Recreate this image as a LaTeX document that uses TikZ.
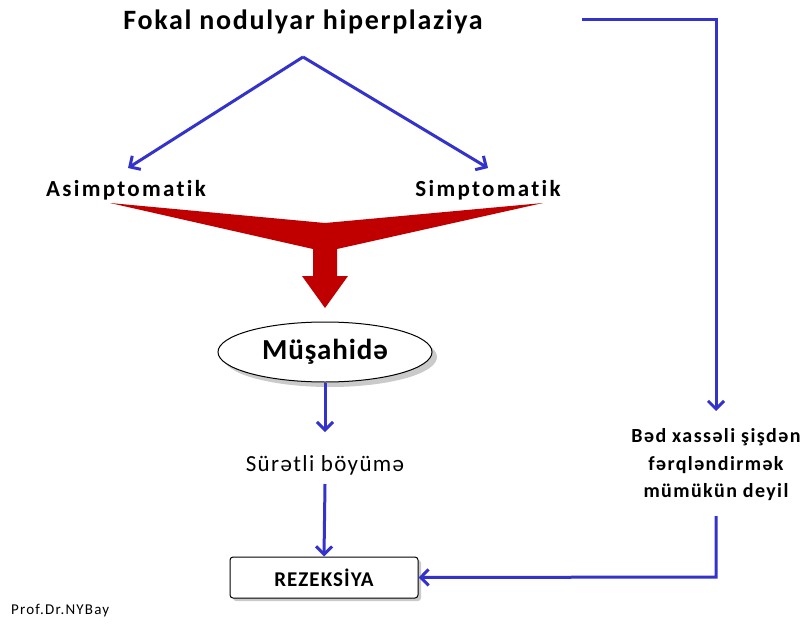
\documentclass[tikz,border=0pt]{standalone}
\usepackage{fontspec}
\setmainfont{Carlito}[Ligatures=NoCommon]
\usetikzlibrary{arrows.meta,shapes.geometric,shadows}
\definecolor{arrowblue}{RGB}{51,51,204}
\definecolor{darkred}{RGB}{192,0,0}
\newcommand{\fsz}[3]{\fontsize{#1}{#2}\selectfont\addfontfeatures{LetterSpace=#3}}
\tikzset{
  flow/.style={draw=arrowblue,line width=3pt,-{Straight Barb[length=8pt,width=16pt,line width=3pt]}},
  label/.style={font=\bfseries\fsz{23}{27}{10},inner sep=0pt},
}
\begin{document}
\begin{tikzpicture}[x=1pt,y=-1pt]
\useasboundingbox (0,0) rectangle (811,626);
% texts
\node[font=\bfseries\fsz{28}{32}{6},inner sep=0pt] (title) at (303,22) {Fokal nodulyar hiperplaziya};
\coordinate (apex) at (303,57);
\node[label] (asim) at (126,190) {Asimptomatik};
\node[label] (sim) at (488,190) {Simptomatik};
\coordinate (asimtop) at (128,168);
\coordinate (simtop) at (488,168);
\draw[flow] (apex) -- (asimtop);
\draw[flow] (apex) -- (simtop);
% red merging arrow
\fill[darkred] (110,203) -- (325,223) -- (543,203) -- (337,249) -- (337,276) -- (348,276)
  -- (325,308) -- (302,276) -- (313,276) -- (313,249) -- cycle;
% ellipse
\node[draw=black,line width=1pt,fill=white,ellipse,minimum width=214pt,minimum height=60pt,
  drop shadow={shadow xshift=5pt,shadow yshift=-5pt,fill=black!35,opacity=0.6},
  font=\bfseries\fsz{29}{33}{3}] (mus) at (325,352) {Müşahidə};
\node[font=\fsz{23}{27}{6},inner sep=0pt] (sur) at (325,465) {Sürətli böyümə};
\node[draw=black,line width=1pt,fill=white,rounded corners=3pt,minimum width=188pt,minimum height=41pt,
  drop shadow={shadow xshift=3pt,shadow yshift=-3pt,fill=black!35,opacity=0.6},
  font=\bfseries\fsz{21}{25}{5}] (rez) at (324,577.5) {REZEKSİYA};
\draw[flow] (mus.south) -- (325,432);
\coordinate (surbot) at (325,484);
\draw[flow] (surbot) -- (rez.north);
% right side
\coordinate (r0) at (582,20);
\coordinate (r1) at (716,20);
\coordinate (r2) at (716,411);
\node[font=\bfseries\fsz{20}{27.5}{7},align=center,inner sep=0pt] (bad) at (716,465)
  {Bəd xassəli şişdən\\fərqləndirmək\\mümükün deyil};
\coordinate (r3) at (716,516);
\coordinate (r4) at (716,577);
\draw[flow,line join=miter] (r0) -- (r1) -- (r2);
\draw[flow,line join=miter] (r3) -- (r4) -- (rez.east);
\node[font=\fsz{15}{17}{8},anchor=west,inner sep=0pt] (prof) at (11,611) {Prof.Dr.NYBay};
\end{tikzpicture}
\end{document}
